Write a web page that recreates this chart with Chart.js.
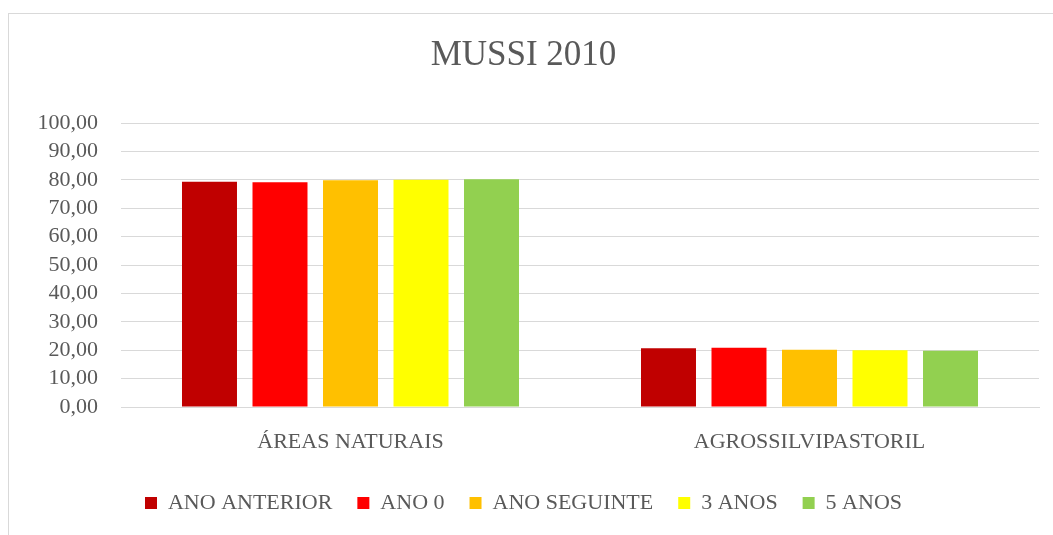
<!DOCTYPE html>
<html>
<head>
<meta charset="utf-8">
<script src="https://cdn.jsdelivr.net/npm/chart.js@4"></script>
<style>
  html, body { margin: 0; padding: 0; background: #fff; overflow: hidden; }
  body { width: 1053px; height: 535px; position: relative; }
  #frame {
    position: absolute; left: 8px; top: 13px;
    width: 1060px; height: 540px;
    border: 1px solid #d9d9d9; box-sizing: border-box;
  }
  #wrap { position: absolute; left: 8px; top: 13px; width: 1060px; height: 522px; }
</style>
</head>
<body>
<div id="frame"></div>
<div id="wrap"><canvas id="chart" width="1060" height="522"></canvas></div>
<script>
// data
const categories = ["ÁREAS NATURAIS", "AGROSSILVIPASTORIL"];
const seriesNames = ["ANO ANTERIOR", "ANO 0", "ANO SEGUINTE", "3 ANOS", "5 ANOS"];
const anoAnterior = [79.3, 20.7];
const ano0 = [79.1, 20.9];
const anoSeguinte = [79.8, 20.2];
const tresAnos = [80.0, 20.0];
const cincoAnos = [80.2, 19.8];
const colors = ["#C00000", "#FF0000", "#FFC000", "#FFFF00", "#92D050"];
const yMin = 0, yMax = 100, yStep = 10;

const values = [anoAnterior, ano0, anoSeguinte, tresAnos, cincoAnos];
const textColor = "#595959";
const fontFamily = "'Liberation Serif', serif";

new Chart(document.getElementById("chart"), {
    type: "bar",
    data: {
        labels: categories,
        datasets: seriesNames.map((name, i) => ({
            label: name,
            data: values[i],
            backgroundColor: colors[i],
            categoryPercentage: 0.768,
            barPercentage: 0.78
        }))
    },
    options: {
        responsive: false,
        animation: false,
        devicePixelRatio: 1,
        layout: { padding: { left: 0, right: 29, top: 22, bottom: 11 } },
        plugins: {
            title: {
                display: true,
                text: "MUSSI 2010",
                color: textColor,
                font: { family: fontFamily, size: 35, weight: "normal" },
                padding: { top: 0, bottom: 46 }
            },
            legend: {
                position: "bottom",
                labels: {
                    color: textColor,
                    font: { family: fontFamily, size: 22 },
                    boxWidth: 12,
                    boxHeight: 12,
                    padding: 25
                }
            },
            tooltip: { enabled: false }
        },
        scales: {
            x: {
                grid: { display: false },
                border: { color: "#d9d9d9" },
                ticks: {
                    color: textColor,
                    font: { family: fontFamily, size: 22 },
                    padding: 14
                },
                afterFit: s => { s.height = 60; }
            },
            y: {
                min: yMin,
                max: yMax,
                grid: { color: "#d9d9d9", drawTicks: false },
                border: { display: false },
                ticks: {
                    stepSize: yStep,
                    autoSkip: false,
                    color: textColor,
                    font: { family: fontFamily, size: 22 },
                    padding: 23,
                    callback: v => v.toFixed(2).replace(".", ",")
                },
                afterFit: s => { s.width = 113; }
            }
        }
    }
});
</script>
</body>
</html>
